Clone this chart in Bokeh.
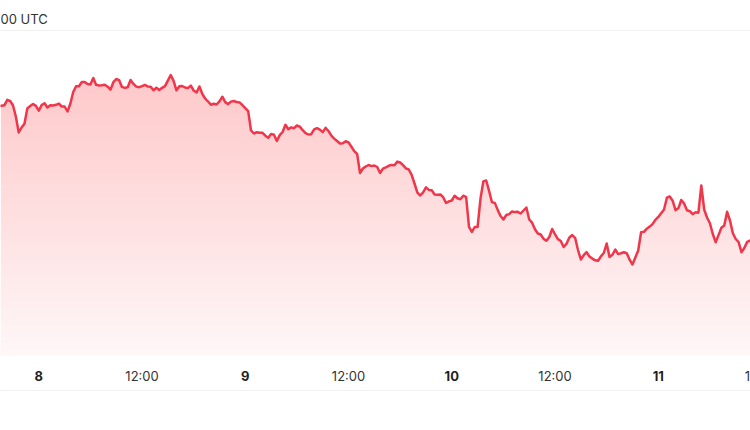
import numpy as np
import pandas as pd
from bokeh.plotting import figure
from bokeh.models import Range1d, Span
from bokeh.core.properties import value
from bokeh.embed import file_html
from bokeh.resources import INLINE

# ---- data (20-minute price samples) ----
start_time = "2025-01-07 19:20"
step = "20min"
prices = [
    3950, 3947, 3952, 4007, 3995, 3953, 3840, 3680, 3730, 3768,
    3921, 3945, 3965, 3946, 3898, 3955, 3973, 3930, 3952, 3950,
    3957, 3969, 3940, 3940, 3890, 3968, 4085, 4143, 4143, 4185,
    4185, 4165, 4160, 4225, 4156, 4150, 4153, 4158, 4138, 4109,
    4183, 4215, 4204, 4136, 4126, 4132, 4205, 4166, 4139, 4133,
    4144, 4156, 4140, 4137, 4102, 4127, 4105, 4127, 4144, 4198,
    4255, 4196, 4102, 4142, 4145, 4130, 4124, 4149, 4100, 4080,
    4140, 4067, 4020, 3990, 3958, 3967, 3960, 3992, 4038, 3984,
    3964, 3989, 3995, 3984, 3981, 3953, 3924, 3894, 3700, 3670,
    3683, 3678, 3677, 3648, 3628, 3666, 3657, 3595, 3654, 3685,
    3757, 3713, 3731, 3723, 3750, 3739, 3703, 3674, 3660, 3663,
    3712, 3723, 3709, 3684, 3726, 3695, 3648, 3619, 3595, 3570,
    3573, 3593, 3581, 3538, 3493, 3465, 3275, 3320, 3340, 3355,
    3344, 3350, 3335, 3275, 3319, 3332, 3347, 3356, 3353, 3389,
    3380, 3353, 3321, 3310, 3257, 3170, 3078, 3050, 3082, 3131,
    3106, 3102, 3060, 3057, 3060, 3033, 2975, 2991, 3000, 3048,
    3022, 3013, 3048, 3034, 2737, 2685, 2735, 2735, 3017, 3190,
    3200, 3096, 2983, 2976, 2906, 2845, 2810, 2855, 2864, 2890,
    2884, 2887, 2870, 2900, 2930, 2810, 2778, 2712, 2670, 2660,
    2616, 2597, 2635, 2715, 2662, 2614, 2595, 2535, 2567, 2631,
    2654, 2627, 2505, 2410, 2453, 2484, 2440, 2419, 2402, 2397,
    2441, 2475, 2570, 2435, 2457, 2510, 2464, 2473, 2483, 2473,
    2408, 2360, 2430, 2500, 2683, 2687, 2718, 2739, 2764, 2807,
    2836, 2873, 2910, 3028, 3040, 2998, 2904, 2922, 3005, 2970,
    2903, 2893, 2863, 2882, 2878, 3150, 2910, 2830, 2773, 2665,
    2583, 2654, 2728, 2751, 2887, 2800, 2672, 2615, 2584, 2483,
    2525, 2586, 2600, 2610,
]

day_labels = ["8", "9", "10", "11"]
day_ticks = ["2025-01-08", "2025-01-09", "2025-01-10", "2025-01-11"]
noon_labels = ["12:00", "12:00", "12:00", "12:00"]
noon_ticks = ["2025-01-08 12:00", "2025-01-09 12:00",
              "2025-01-10 12:00", "2025-01-11 12:00"]
header_text = "00 UTC"

# ---- figure ----
times = pd.date_range(start_time, periods=len(prices), freq=step)
price_arr = np.array(prices, dtype=float)
base = pd.Timestamp("2025-01-08")
x_start = base + pd.Timedelta(hours=-4.4514)
x_end = base + pd.Timedelta(hours=82.717)

Y_BOTTOM, Y_TOP = 700, 5000
BASELINE = 1450
RED = "#f0364a"

p = figure(width=750, height=430, x_axis_type="datetime",
           x_range=Range1d(x_start, x_end), y_range=Range1d(Y_BOTTOM, Y_TOP),
           output_backend="svg", toolbar_location=None,
           x_axis_location=None, y_axis_location=None, min_border=0)
p.outline_line_color = None
p.grid.grid_line_color = None
p.xgrid.visible = False
p.ygrid.visible = False
p.background_fill_color = "white"
p.border_fill_color = "white"

# gradient fill: base layer + stacked translucent layers
p.varea(x=times, y1=np.full(len(price_arr), BASELINE), y2=price_arr,
        fill_color=RED, fill_alpha=0.045)
levels = np.linspace(BASELINE, 4300, 48)
for lv in levels[1:]:
    p.varea(x=times, y1=np.full(len(price_arr), lv),
            y2=np.maximum(price_arr, lv), fill_color=RED, fill_alpha=0.0055)

p.add_layout(Span(location=4700, dimension="width", line_color="#efefef", line_width=1))
p.add_layout(Span(location=1100, dimension="width", line_color="#efefef", line_width=1))

p.line(times, price_arr, line_color=RED, line_width=2.5, line_join="round")

p.text(x=pd.to_datetime(day_ticks), y=[1250] * len(day_ticks), text=day_labels,
       text_font=value("Inter"), text_font_size="13px", text_font_style="bold",
       text_align="center", text_baseline="middle", text_color="#1f1f1f")
p.text(x=pd.to_datetime(noon_ticks), y=[1250] * len(noon_ticks), text=noon_labels,
       text_font=value("Inter"), text_font_size="13px",
       text_align="center", text_baseline="middle", text_color="#333333")
p.text(x=[x_start], y=[4820], text=[header_text],
       text_font=value("Inter"), text_font_size="13px",
       text_align="left", text_baseline="middle", text_color="#333333")

open("out.html", "w").write(file_html(p, INLINE))
